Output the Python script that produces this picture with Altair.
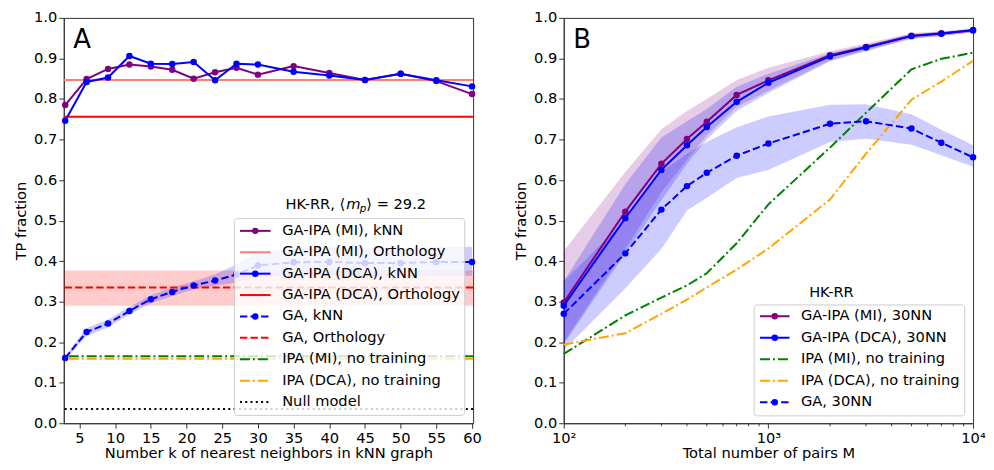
import altair as alt
import pandas as pd

FONT = "DejaVu Sans"
FS = 14.7

# ---------------- Panel A data ----------------
k_vals = [3, 6, 9, 12, 15, 18, 21, 24, 27, 30, 35, 40, 45, 50, 55, 60]
gaipa_mi_knn = [0.785, 0.849, 0.874, 0.885, 0.880, 0.872, 0.850, 0.866, 0.877, 0.860, 0.881, 0.864, 0.847, 0.862, 0.844, 0.812]
gaipa_dca_knn = [0.746, 0.842, 0.853, 0.906, 0.887, 0.886, 0.891, 0.846, 0.887, 0.885, 0.867, 0.858, 0.847, 0.862, 0.846, 0.831]
ga_knn = [0.161, 0.225, 0.246, 0.277, 0.306, 0.324, 0.340, 0.352, 0.367, 0.389, 0.397, 0.398, 0.395, 0.395, 0.398, 0.398]
ga_knn_lo = [0.157, 0.215, 0.237, 0.268, 0.296, 0.314, 0.330, 0.339, 0.347, 0.362, 0.363, 0.363, 0.363, 0.363, 0.364, 0.364]
ga_knn_hi = [0.166, 0.235, 0.256, 0.287, 0.316, 0.335, 0.350, 0.367, 0.392, 0.420, 0.432, 0.434, 0.433, 0.432, 0.435, 0.435]
gaipa_mi_orth = 0.847
gaipa_dca_orth = 0.756
ga_orth = 0.335
ga_orth_lo = 0.290
ga_orth_hi = 0.377
ipa_mi_notrain = 0.165
ipa_dca_notrain = 0.159
null_model = 0.035

# ---------------- Panel B data ----------------
M_vals = [100, 200, 300, 400, 500, 700, 1000, 2000, 3000, 5000, 7000, 10000]
b_mi = [0.298, 0.522, 0.640, 0.701, 0.744, 0.810, 0.846, 0.908, 0.928, 0.956, 0.962, 0.969]
b_dca = [0.290, 0.506, 0.625, 0.686, 0.731, 0.793, 0.840, 0.905, 0.927, 0.955, 0.961, 0.970]
b_ga = [0.270, 0.419, 0.527, 0.585, 0.618, 0.660, 0.690, 0.739, 0.745, 0.727, 0.692, 0.656]
b_ipa_mi = [0.171, 0.266, 0.310, 0.340, 0.370, 0.444, 0.540, 0.680, 0.766, 0.873, 0.899, 0.914]
b_ipa_dca = [0.194, 0.222, 0.270, 0.305, 0.335, 0.379, 0.431, 0.552, 0.665, 0.798, 0.843, 0.894]
b_mi_lo = [0.200, 0.430, 0.570, 0.650, 0.710, 0.780, 0.820, 0.895, 0.920, 0.950, 0.956, 0.964]
b_mi_hi = [0.425, 0.620, 0.725, 0.770, 0.800, 0.847, 0.877, 0.918, 0.937, 0.962, 0.967, 0.974]
b_dca_lo = [0.195, 0.420, 0.550, 0.640, 0.700, 0.770, 0.815, 0.893, 0.918, 0.948, 0.955, 0.965]
b_dca_hi = [0.350, 0.590, 0.705, 0.745, 0.775, 0.830, 0.862, 0.913, 0.933, 0.960, 0.965, 0.973]
b_ga_lo = [0.180, 0.333, 0.430, 0.525, 0.556, 0.605, 0.625, 0.694, 0.702, 0.687, 0.661, 0.633]
b_ga_hi = [0.350, 0.500, 0.620, 0.665, 0.694, 0.730, 0.757, 0.786, 0.787, 0.762, 0.724, 0.686]
M_minor = [200, 300, 400, 500, 600, 700, 800, 900, 2000, 3000, 4000, 5000, 6000, 7000, 8000, 9000]

legendA_labels = ["GA-IPA (MI), kNN", "GA-IPA (MI), Orthology", "GA-IPA (DCA), kNN",
                  "GA-IPA (DCA), Orthology", "GA, kNN", "GA, Orthology",
                  "IPA (MI), no training", "IPA (DCA), no training", "Null model"]
legendB_labels = ["GA-IPA (MI), 30NN", "GA-IPA (DCA), 30NN", "IPA (MI), no training",
                  "IPA (DCA), no training", "GA, 30NN"]

# ---------------- styles ----------------
PURPLE = "#800080"
BLUE = "#0000ff"
SALMON = "#fa8072"
RED = "#ff0000"
GREEN = "#008000"
ORANGE = "#ffa500"
DASH = [7.4, 3.2]
DASHDOT = [10, 3, 2, 3]
DOT = [2, 3.3]
W = 411
H = 407
SX = W / 417.0
SY = H / 413.0

dfA = pd.DataFrame({"k": k_vals, "mi": gaipa_mi_knn, "dca": gaipa_dca_knn,
                    "ga": ga_knn, "lo": ga_knn_lo, "hi": ga_knn_hi})
dfB = pd.DataFrame({"M": M_vals, "mi": b_mi, "dca": b_dca, "ga": b_ga,
                    "ipa_mi": b_ipa_mi, "ipa_dca": b_ipa_dca,
                    "mi_lo": b_mi_lo, "mi_hi": b_mi_hi, "dca_lo": b_dca_lo,
                    "dca_hi": b_dca_hi, "ga_lo": b_ga_lo, "ga_hi": b_ga_hi})
dummy = pd.DataFrame({"d": [0]})

yscale = alt.Scale(domain=[0, 1], nice=False, zero=False)
yaxis = alt.Axis(values=[i / 10 for i in range(11)], format=".1f", title="TP fraction",
                 titlePadding=5)

xA_scale = alt.Scale(domain=[2.8, 60.15], nice=False, zero=False)
xA_axis = alt.Axis(values=list(range(5, 61, 5)), title="Number k of nearest neighbors in kNN graph",
                   labelFlush=False, titlePadding=1)
xB_scale = alt.Scale(type="log", domain=[100, 10000], nice=False)
xB_axis = alt.Axis(values=[100, 1000, 10000], title="Total number of pairs M", labelFlush=False,
                   titlePadding=1,
                   labelExpr="datum.value == 100 ? '10²' : (datum.value == 1000 ? '10³' : '10⁴')")


def hline(value, color, dash=None, width=2.0):
    kw = dict(color=color, strokeWidth=width)
    if dash:
        kw["strokeDash"] = dash
    return alt.Chart(pd.DataFrame({"v": [value]})).mark_rule(**kw).encode(
        y=alt.Y("v:Q", scale=yscale, axis=yaxis))


def legend_row(x1, x2, y, color, dash, marker, label, tx):
    kw = dict(color=color, strokeWidth=2)
    if dash:
        kw["strokeDash"] = dash
    out = [alt.Chart(dummy).mark_rule(**kw).encode(
        x=alt.value(x1), x2=alt.value(x2), y=alt.value(y))]
    if marker:
        out.append(alt.Chart(dummy).mark_circle(color=color, size=42, opacity=1).encode(
            x=alt.value((x1 + x2) / 2), y=alt.value(y)))
    out.append(alt.Chart(dummy).mark_text(align="left", baseline="middle", font=FONT,
                                          fontSize=FS, color="black").encode(
        x=alt.value(tx), y=alt.value(y), text=alt.value(label)))
    return out


def text_at(x, y, s, size=FS, style="normal", baseline="middle"):
    return alt.Chart(dummy).mark_text(align="left", baseline=baseline, font=FONT, fontSize=size,
                                      fontStyle=style, color="black").encode(
        x=alt.value(x), y=alt.value(y), text=alt.value(s))


def box(x1, x2, y1, y2):
    return alt.Chart(dummy).mark_rect(fill="white", fillOpacity=0.8, stroke="#cccccc",
                                      strokeWidth=1, cornerRadius=3).encode(
        x=alt.value(x1), x2=alt.value(x2), y=alt.value(y1), y2=alt.value(y2))


# ---------------- Panel A ----------------
baseA = alt.Chart(dfA)
xA = alt.X("k:Q", scale=xA_scale, axis=xA_axis)

layersA = [
    alt.Chart(pd.DataFrame({"lo": [ga_orth_lo], "hi": [ga_orth_hi]})).mark_rect(
        color=RED, opacity=0.2).encode(y=alt.Y("lo:Q", scale=yscale, axis=yaxis), y2="hi:Q"),
    baseA.mark_area(color=BLUE, opacity=0.2).encode(
        x=xA, y=alt.Y("lo:Q", scale=yscale, axis=yaxis), y2="hi:Q"),
    hline(gaipa_mi_orth, SALMON),
    hline(gaipa_dca_orth, RED),
    hline(ga_orth, RED, DASH),
    hline(ipa_mi_notrain, GREEN, DASHDOT),
    hline(ipa_dca_notrain, ORANGE, DASHDOT),
    hline(null_model, "black", DOT),
    baseA.mark_line(color=PURPLE, strokeWidth=2).encode(x=xA, y=alt.Y("mi:Q", scale=yscale, axis=yaxis)),
    baseA.mark_circle(color=PURPLE, size=42, opacity=1).encode(x=xA, y=alt.Y("mi:Q", scale=yscale)),
    baseA.mark_line(color=BLUE, strokeWidth=2).encode(x=xA, y=alt.Y("dca:Q", scale=yscale)),
    baseA.mark_circle(color=BLUE, size=42, opacity=1).encode(x=xA, y=alt.Y("dca:Q", scale=yscale)),
    baseA.mark_line(color=BLUE, strokeWidth=2, strokeDash=DASH).encode(x=xA, y=alt.Y("ga:Q", scale=yscale)),
    baseA.mark_circle(color=BLUE, size=42, opacity=1).encode(x=xA, y=alt.Y("ga:Q", scale=yscale)),
]

# legend A
layersA.append(box(174 * SX, 408.5 * SX, 204.5 * SY, 405 * SY))
stylesA = [(PURPLE, None, True), (SALMON, None, False), (BLUE, None, True), (RED, None, False),
           (BLUE, DASH, True), (RED, DASH, False), (GREEN, DASHDOT, False), (ORANGE, DASHDOT, False),
           ("black", DOT, False)]
for i, (lab, (c, d, m)) in enumerate(zip(legendA_labels, stylesA)):
    layersA += legend_row(179.5 * SX, 210.7 * SX, (217 + 21.8 * i) * SY, c, d, m, lab, 222.5 * SX)
# legend title A
ty = 190.5 * SY
tx = 226.0 * SX
layersA += [
    text_at(tx, ty, "HK-RR, ⟨"),
    text_at(tx + 61.0, ty, "m", style="italic"),
    text_at(tx + 74.5, ty + 4.5, "p", size=10.3, style="italic"),
    text_at(tx + 81.0, ty, "⟩ = 29.2"),
]
layersA.append(text_at(9.5, 30.5 * SY, "A", size=26, baseline="alphabetic"))

chartA = alt.layer(*layersA).properties(width=W, height=H)

# ---------------- Panel B ----------------
baseB = alt.Chart(dfB)
xB = alt.X("M:Q", scale=xB_scale, axis=xB_axis)

layersB = [
    baseB.mark_area(color=PURPLE, opacity=0.2).encode(
        x=xB, y=alt.Y("mi_lo:Q", scale=yscale, axis=yaxis), y2="mi_hi:Q"),
    baseB.mark_area(color=BLUE, opacity=0.2).encode(x=xB, y=alt.Y("dca_lo:Q", scale=yscale), y2="dca_hi:Q"),
    baseB.mark_area(color=BLUE, opacity=0.2).encode(x=xB, y=alt.Y("ga_lo:Q", scale=yscale), y2="ga_hi:Q"),
    baseB.mark_line(color=GREEN, strokeWidth=2, strokeDash=DASHDOT).encode(x=xB, y=alt.Y("ipa_mi:Q", scale=yscale)),
    baseB.mark_line(color=ORANGE, strokeWidth=2, strokeDash=DASHDOT).encode(x=xB, y=alt.Y("ipa_dca:Q", scale=yscale)),
    baseB.mark_line(color=PURPLE, strokeWidth=2).encode(x=xB, y=alt.Y("mi:Q", scale=yscale)),
    baseB.mark_circle(color=PURPLE, size=42, opacity=1).encode(x=xB, y=alt.Y("mi:Q", scale=yscale)),
    baseB.mark_line(color=BLUE, strokeWidth=2).encode(x=xB, y=alt.Y("dca:Q", scale=yscale)),
    baseB.mark_circle(color=BLUE, size=42, opacity=1).encode(x=xB, y=alt.Y("dca:Q", scale=yscale)),
    baseB.mark_line(color=BLUE, strokeWidth=2, strokeDash=DASH).encode(x=xB, y=alt.Y("ga:Q", scale=yscale)),
    baseB.mark_circle(color=BLUE, size=42, opacity=1).encode(x=xB, y=alt.Y("ga:Q", scale=yscale)),
    # minor ticks of the log axis
    alt.Chart(pd.DataFrame({"M": M_minor})).mark_rule(color="#333333", strokeWidth=1).encode(
        x=alt.X("M:Q", scale=xB_scale), y=alt.value(H), y2=alt.value(H + 3)),
]
layersB.append(box(194 * SX, 408.5 * SX, 292.5 * SY, 405.5 * SY))
stylesB = [(PURPLE, None, True), (BLUE, None, True), (GREEN, DASHDOT, False),
           (ORANGE, DASHDOT, False), (BLUE, DASH, True)]
for i, (lab, (c, d, m)) in enumerate(zip(legendB_labels, stylesB)):
    layersB += legend_row(200 * SX, 230 * SX, (304 + 21.9 * i) * SY, c, d, m, lab, 241.7 * SX)
layersB.append(text_at(250 * SX, 280.5 * SY, "HK-RR"))
layersB.append(text_at(9.5, 30.5 * SY, "B", size=26, baseline="alphabetic"))

chartB = alt.layer(*layersB).properties(width=W, height=H)

chart = alt.hconcat(chartA, chartB, spacing=31).properties(
    padding={"left": 5, "top": 0, "right": 0, "bottom": 0}
).configure_axis(
    labelFont=FONT, labelFontSize=FS, titleFont=FONT, titleFontSize=FS,
    titleFontWeight="normal", labelColor="black", titleColor="black",
    tickColor="#333333", domainColor="#333333", grid=False, tickSize=5,
    labelPadding=2, labelOverlap=False
).configure_view(stroke="#333333", strokeWidth=1)

chart.save("out.html", embed_options={"renderer": "svg", "actions": False})
